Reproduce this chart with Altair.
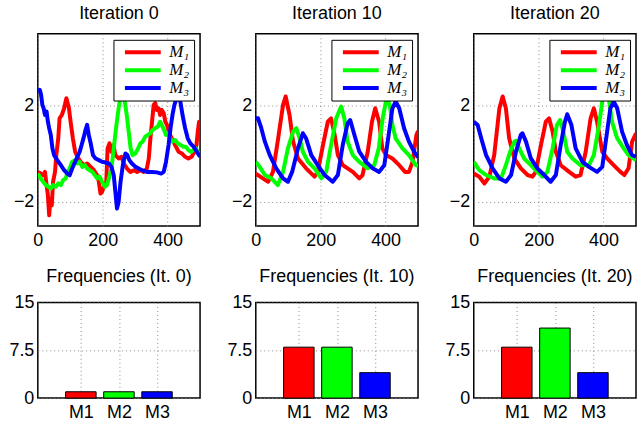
import altair as alt
import pandas as pd

ITERATIONS = [0, 10, 20]
MODELS = ["M1", "M2", "M3"]
LEGEND_LABELS = ["M₁", "M₂", "M₃"]
COLORS = ["#ff0000", "#00ff00", "#0000ff"]
X_TICKS = [0, 200, 400]
Y_TICKS = [-2, 2]
BAR_Y_TICKS = [0, 7.5, 15]

# ---- Iteration 0 ----
IT0_M1_T = [0, 9, 16, 22, 27, 31, 35, 39, 43, 47, 53, 57, 63, 67, 74, 81, 88, 92, 96, 101,
            108, 115, 122, 132, 142, 152, 163, 173, 183, 188, 193, 198, 203, 211, 215, 221, 227, 233, 239, 249,
            258, 265, 275, 285, 296, 306, 316, 326, 336, 342, 347, 352, 357, 362, 367, 372, 377, 382, 388, 393,
            398, 405, 413, 423, 434, 444, 454, 464, 474, 483, 489, 493, 497, 500]
IT0_M1_V = [-0.75, -0.82, -0.89, -0.75, -1.30, -1.72, -2.56, -1.86, -2.14, -1.16, -0.75, -0.05, 0.65, 1.48, 1.62, 1.90, 2.32, 2.11, 1.90, 1.34,
            0.65, 0.09, -0.12, -0.33, -0.47, -0.40, -0.54, -0.68, -0.89, -1.16, -1.65, -1.58, -1.37, -1.16, 0.23, 0.44, 0.09, 0.37, -0.05, -0.19,
            -0.12, -0.40, -0.61, -0.75, -0.68, -0.75, -0.68, -0.75, -0.61, -0.19, 0.65, 1.34, 2.04, 2.11, 1.83, 1.90, 1.62, 1.83, 1.69, 1.34,
            1.21, 0.86, 0.65, 0.37, 0.09, 0.02, -0.12, -0.19, -0.12, 0.09, 0.37, 0.93, 1.34, 1.21]
IT0_M2_T = [0, 9, 16, 25, 33, 40, 47, 55, 63, 71, 78, 86, 92, 98, 106, 115, 122, 129, 137, 145,
            152, 160, 168, 176, 183, 190, 198, 207, 213, 219, 227, 234, 241, 249, 256, 262, 268, 274, 280, 286,
            292, 301, 309, 316, 323, 331, 339, 347, 354, 362, 370, 377, 382, 389, 395, 401, 408, 415, 423, 431,
            440, 449, 456, 464, 472, 480, 487, 495, 500]
IT0_M2_V = [-0.82, -1.02, -1.16, -1.30, -1.37, -1.44, -1.30, -1.37, -1.23, -1.30, -1.09, -1.02, -0.75, -0.61, -0.33, -0.26, -0.40, -0.33, -0.54, -0.47,
            -0.61, -0.68, -0.75, -0.89, -1.02, -0.95, -1.16, -1.37, -1.30, -1.02, -0.61, 0.23, 1.07, 1.90, 2.46, 2.60, 2.18, 1.62, 0.93, 0.23,
            -0.05, 0.02, 0.23, 0.44, 0.51, 0.72, 0.79, 0.86, 1.00, 1.07, 1.14, 1.34, 1.21, 1.00, 0.79, 0.86, 0.65, 0.51, 0.58, 0.44,
            0.37, 0.30, 0.30, 0.16, 0.09, 0.16, 0.23, 0.02, 0.09]
IT0_M3_T = [0, 6, 10, 14, 18, 22, 27, 31, 35, 40, 45, 50, 60, 71, 81, 91, 98, 106, 115, 122,
            129, 135, 142, 147, 152, 157, 163, 170, 178, 188, 198, 209, 219, 227, 234, 239, 244, 249, 255, 262,
            270, 276, 282, 290, 301, 311, 321, 336, 352, 367, 380, 388, 395, 403, 409, 415, 421, 428, 434, 440,
            446, 454, 462, 470, 480, 490, 500]
IT0_M3_V = [2.60, 2.67, 2.46, 2.04, 1.90, 1.62, 1.76, 1.34, 1.07, 0.79, 0.23, -0.05, -0.26, -0.47, -0.68, -0.82, -0.89, -0.61, -0.33, -0.12,
            0.09, 0.37, 0.72, 1.00, 1.21, 0.79, 0.44, -0.05, -0.19, -0.26, -0.33, -0.36, -0.40, -0.54, -0.89, -1.58, -2.28, -2.00, -1.16, -0.47,
            0.02, -0.05, -0.26, -0.40, -0.54, -0.61, -0.68, -0.75, -0.75, -0.77, -0.82, -0.75, -0.33, 0.37, 1.07, 1.62, 2.04, 2.32, 2.55, 2.11,
            1.62, 1.07, 0.65, 0.44, 0.30, 0.09, -0.12]

# ---- Iteration 10 ----
IT10_M1_T = [0, 22, 38, 53, 69, 84, 92, 104, 115, 130, 155, 181, 191, 207, 222, 232, 243, 253, 268, 299,
             319, 329, 345, 358, 368, 380, 390, 401, 421, 442, 460, 472, 483, 495, 500]
IT10_M1_V = [-0.82, -1.02, -1.16, -0.75, 0.65, 2.04, 2.39, 1.62, 0.51, -0.19, -0.60, -0.95, -0.75, 0.37, 1.34, 1.48, 0.79, -0.05, -0.47, -0.75,
             -1.02, -0.88, 0.09, 1.34, 1.90, 1.34, 0.23, -0.05, -0.19, -0.47, -0.75, -0.75, -0.33, 0.79, 0.95]
IT10_M2_T = [0, 12, 28, 48, 68, 84, 99, 115, 125, 135, 145, 161, 181, 202, 217, 232, 248, 263, 273, 283,
             299, 319, 345, 365, 379, 391, 403, 413, 421, 431, 452, 472, 493, 500]
IT10_M2_V = [-0.33, -0.54, -0.88, -1.02, -1.30, -0.75, 0.23, 0.93, 1.07, 0.65, 0.09, -0.33, -0.60, -1.02, -0.75, 0.37, 1.48, 1.97, 1.48, 0.51,
             -0.05, -0.33, -0.60, -0.47, 0.23, 1.48, 2.32, 2.04, 1.20, 0.65, 0.23, -0.05, -0.47, -0.50]
IT10_M3_T = [0, 7, 17, 28, 43, 63, 84, 99, 112, 130, 145, 155, 171, 191, 212, 237, 253, 268, 283, 291,
             304, 319, 340, 360, 380, 396, 411, 421, 431, 442, 457, 472, 488, 500]
IT10_M3_V = [1.48, 1.48, 1.07, 0.51, -0.05, -0.60, -1.02, -1.16, -0.75, 0.23, 0.86, 0.65, -0.05, -0.47, -0.88, -1.16, -0.88, 0.37, 1.27, 1.41,
             0.79, 0.09, -0.33, -0.60, -0.75, -0.47, 0.93, 1.90, 2.18, 1.90, 1.07, 0.51, 0.09, -0.15]

# ---- Iteration 20 ----
IT20_M1_T = [0, 17, 33, 48, 63, 79, 89, 99, 109, 125, 145, 166, 181, 191, 207, 222, 232, 243, 253, 268,
             294, 314, 329, 345, 360, 370, 380, 396, 411, 431, 452, 464, 477, 488, 500]
IT20_M1_V = [-0.82, -0.95, -1.23, -0.95, -0.05, 1.90, 2.39, 1.90, 0.65, -0.19, -0.60, -0.88, -0.95, -0.75, 0.37, 1.34, 1.48, 0.93, 0.09, -0.47,
             -0.75, -0.95, -0.88, 0.09, 1.48, 1.90, 1.34, 0.09, -0.19, -0.47, -0.75, -0.88, -0.60, 0.51, 0.86]
IT20_M2_T = [0, 17, 38, 63, 84, 99, 112, 125, 130, 140, 155, 176, 196, 212, 227, 243, 256, 266, 276, 288,
             304, 329, 355, 370, 386, 396, 406, 416, 426, 442, 462, 477, 500]
IT20_M2_V = [-0.33, -0.68, -0.88, -1.02, -1.02, -0.47, 0.09, 0.51, 0.54, 0.23, -0.19, -0.47, -0.75, -0.95, -0.75, 0.23, 1.20, 1.41, 0.93, 0.09,
             -0.19, -0.47, -0.47, -0.05, 1.20, 2.18, 2.74, 2.32, 1.34, 0.65, 0.23, -0.05, -0.26]
IT20_M3_T = [0, 12, 23, 38, 58, 79, 99, 115, 130, 145, 150, 161, 176, 196, 217, 237, 253, 268, 281, 288,
             301, 314, 335, 355, 380, 396, 411, 421, 431, 442, 457, 472, 488, 500]
IT20_M3_V = [1.34, 1.20, 0.65, -0.05, -0.60, -1.02, -1.16, -0.88, 0.09, 0.79, 0.86, 0.51, -0.19, -0.60, -0.88, -1.16, -0.88, 0.37, 1.34, 1.65,
             1.20, 0.23, -0.33, -0.54, -0.75, -0.54, 0.93, 1.90, 2.18, 1.90, 0.93, 0.37, -0.05, -0.12]

# ---- Frequencies ----
FREQ_IT0 = [1, 1, 1]
FREQ_IT10 = [8, 8, 4]
FREQ_IT20 = [8, 11, 4]

SERIES = {
    0: [(IT0_M1_T, IT0_M1_V), (IT0_M2_T, IT0_M2_V), (IT0_M3_T, IT0_M3_V)],
    10: [(IT10_M1_T, IT10_M1_V), (IT10_M2_T, IT10_M2_V), (IT10_M3_T, IT10_M3_V)],
    20: [(IT20_M1_T, IT20_M1_V), (IT20_M2_T, IT20_M2_V), (IT20_M3_T, IT20_M3_V)],
}
FREQS = {0: FREQ_IT0, 10: FREQ_IT10, 20: FREQ_IT20}

PANEL_W = 163
TOP_H = 193
BOT_H = 96
SANS = "Liberation Sans"


def line_panel(it):
    rows = []
    for lab, (ts, vs) in zip(LEGEND_LABELS, SERIES[it]):
        for t, v in zip(ts, vs):
            rows.append({"t": t, "v": v, "model": lab})
    df = pd.DataFrame(rows)
    return alt.Chart(
        df,
        title=alt.TitleParams(f"Iteration {it}", fontSize=18, font=SANS, fontWeight="normal",
                              offset=14, dy=17, baseline="alphabetic", frame="group", anchor="middle"),
    ).mark_line(strokeWidth=4, clip=True, strokeJoin="round").encode(
        x=alt.X("t:Q", scale=alt.Scale(domain=[0, 500], nice=False),
                axis=alt.Axis(values=X_TICKS, title=None, labelPadding=6, labelFlush=False)),
        y=alt.Y("v:Q", scale=alt.Scale(domain=[-3, 5], nice=False),
                axis=alt.Axis(values=Y_TICKS, title=None, labelPadding=4)),
        color=alt.Color("model:N", scale=alt.Scale(domain=LEGEND_LABELS, range=COLORS),
                        legend=alt.Legend(orient="top-right", offset=6, title=None,
                                          symbolType="M-3,0H3", symbolSize=144,
                                          symbolStrokeWidth=4, symbolOffset=17,
                                          strokeColor="black", fillColor="white", padding=4,
                                          labelFont="Liberation Serif", labelFontStyle="italic",
                                          labelFontSize=17, labelOffset=18, rowPadding=0,
                                          labelColor="black")),
    ).properties(width=PANEL_W, height=TOP_H)


def bar_panel(it):
    df = pd.DataFrame({"model": MODELS, "freq": FREQS[it],
                       "pos": list(range(1, len(MODELS) + 1))})
    return alt.Chart(
        df,
        title=alt.TitleParams(f"Frequencies (It. {it})", fontSize=18, font=SANS, fontWeight="normal",
                              offset=11, dy=17, baseline="alphabetic", frame="group", anchor="middle"),
    ).transform_calculate(
        lo="datum.pos - 0.4", hi="datum.pos + 0.4", base="0"
    ).mark_bar(stroke="black", strokeWidth=1, orient="vertical").encode(
        x=alt.X("lo:Q", scale=alt.Scale(domain=[0, 4], nice=False),
                axis=alt.Axis(values=[1, 2, 3], labelExpr="'M' + datum.value", title=None,
                              labelPadding=5, labelFlush=False)),
        x2="hi:Q",
        y=alt.Y("freq:Q", scale=alt.Scale(domain=[0, 15], nice=False),
                axis=alt.Axis(values=BAR_Y_TICKS, format="~g", title=None, labelPadding=4)),
        y2="base:Q",
        color=alt.Color("model:N", scale=alt.Scale(domain=MODELS, range=COLORS), legend=None),
    ).properties(width=PANEL_W, height=BOT_H)


panels = [line_panel(it) for it in ITERATIONS] + [bar_panel(it) for it in ITERATIONS]

chart = alt.concat(
    *panels, columns=3, spacing={"row": 77, "column": 56}, bounds="flush", align="each"
).resolve_scale(
    color="independent"
).resolve_legend(
    color="independent"
).properties(
    padding={"left": 8, "top": 3, "right": 0, "bottom": 0},
    background="white"
).configure_view(
    stroke="black", strokeWidth=1.5
).configure_axis(
    labelFont=SANS, labelFontSize=18, labelColor="black", domain=False, ticks=False,
    grid=True, gridColor="#8c8c8c", gridDash=[1, 3], gridWidth=1
)

chart.save("out.html", embed_options={"renderer": "svg", "actions": False})
